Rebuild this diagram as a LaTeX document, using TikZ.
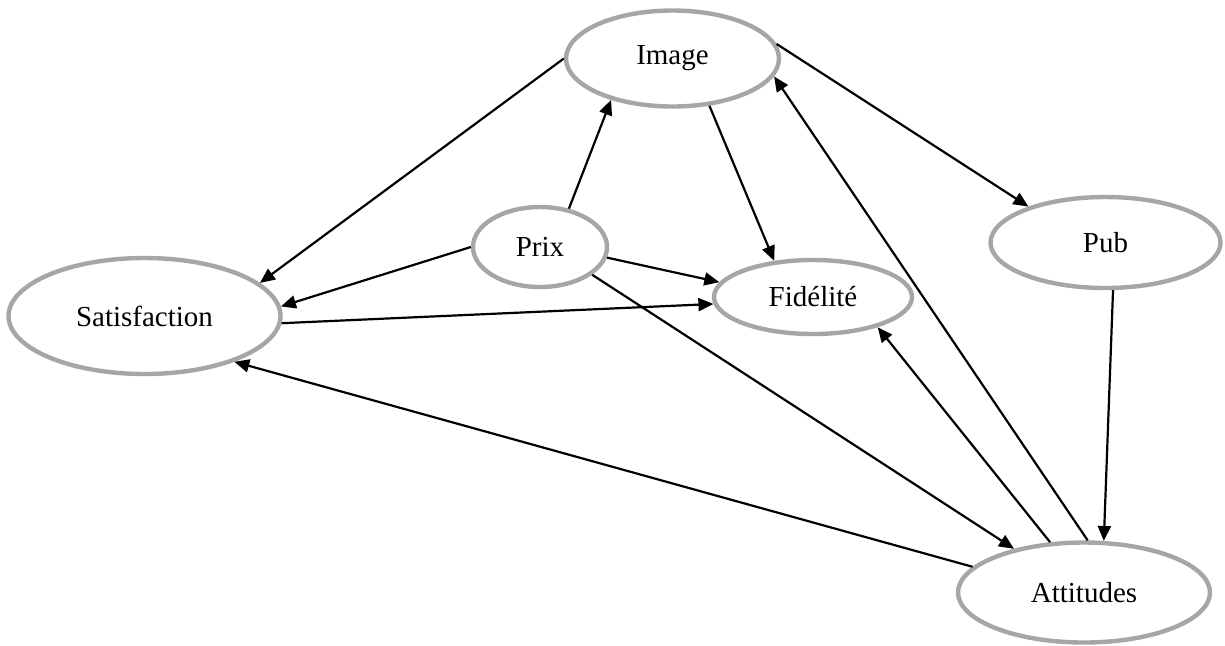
\documentclass[tikz,border=0pt]{standalone}
\usepackage{fontspec}
\setmainfont{Liberation Serif}
\usetikzlibrary{shapes.geometric,arrows.meta}
\definecolor{ringgray}{HTML}{A6A6A6}
\tikzset{
  construct/.style={ellipse, draw=ringgray, line width=2.2pt, fill=white, inner sep=0pt,
    font=\fontsize{14.5pt}{17pt}\selectfont},
  link/.style={line width=1.1pt, -{Triangle[length=7.5pt,width=6.5pt]}}
}
\begin{document}
\begin{tikzpicture}[x=0.5pt,y=-0.5pt]
\useasboundingbox (0,0) rectangle (1225,645);
\node[construct, minimum width=106.5pt, minimum height=48pt] (img) at (672.5,58.5) {Image};
\node[construct, minimum width=67pt, minimum height=40pt] (prix) at (540,247) {Prix};
\node[construct, minimum width=99pt, minimum height=37pt] (fid) at (813,297) {Fidélité};
\node[construct, minimum width=136pt, minimum height=58pt] (sat) at (144.5,316) {Satisfaction};
\node[construct, minimum width=115pt, minimum height=45.5pt] (pub) at (1105.5,242.5) {Pub};
\node[construct, minimum width=126pt, minimum height=50pt] (att) at (1084,592.5) {Attitudes};

\draw[link] (img.180.8) -- (sat.16.6);
\draw[link] (prix.53.4) -- (img.214.4);
\draw[link] (img.-52.2) -- (fid.137.6);
\draw[link] (img.8) -- (pub.155.4);
\draw[link] (prix.180) -- (sat.4.8);
\draw[link] (prix.-9.2) -- (fid.171.5);
\draw[link] (sat.-3.4) -- (fid.184.8);
\draw[link] (prix.-28.3) -- (att.148.5);
\draw[link] (att.167.1) -- (sat.-27.5);
\draw[link] (att.124.5) -- (fid.-25.1);
\draw[link] (att.86.6) -- (img.-10.4);
\draw[link] (pub.-81.9) -- (att.69.4);
\end{tikzpicture}
\end{document}
